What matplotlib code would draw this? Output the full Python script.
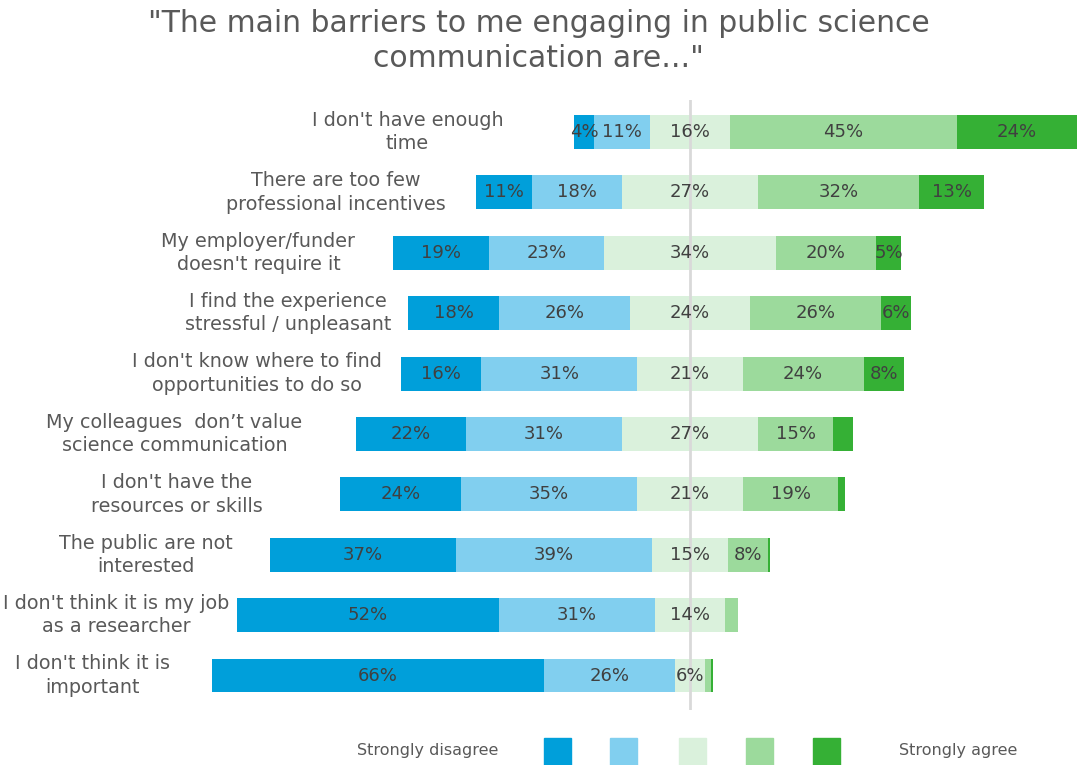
import numpy as np
import matplotlib
import matplotlib.pyplot as plt

matplotlib.use('Agg')

statements = [
    "I don't have enough\ntime",
    "There are too few\nprofessional incentives",
    "My employer/funder\ndoesn't require it",
    "I find the experience\nstressful / unpleasant",
    "I don't know where to find\nopportunities to do so",
    "My colleagues  don\u2019t value\nscience communication",
    "I don't have the\nresources or skills",
    "The public are not\ninterested",
    "I don't think it is my job\nas a researcher",
    "I don't think it is\nimportant",
]
strongly_disagree = [4, 11, 19, 18, 16, 22, 24, 37, 52, 66]
disagree          = [11, 18, 23, 26, 31, 31, 35, 39, 31, 26]
neutral           = [16, 27, 34, 24, 21, 27, 21, 15, 14, 6]
agree             = [45, 32, 20, 26, 24, 15, 19, 8, 2.6, 1.2]
strongly_agree    = [24, 13, 5, 6, 8, 3.9, 1.3, 0.5, 0, 0.4]

# distance from each bar's left end to the centre of its wrapped label (in % units)
label_gap = [33.2, 28.0, 26.8, 23.9, 28.6, 36.0, 32.6, 24.7, 24.0, 23.7]

colors = ['#009fda', '#81cfef', '#daf1dc', '#9cda9c', '#35b035']
grey = '#595959'
plt.rcParams['font.family'] = ['DejaVu Sans']

fig = plt.figure(figsize=(10.77, 7.65), dpi=100)
ax = fig.add_axes([0, 1 - 710/765, 1, 610/765])

series = np.array([strongly_disagree, disagree, neutral, agree, strongly_agree], dtype=float)
y = -np.arange(len(statements))
# neutral block sits centred on zero
left = -(series[0] + series[1] + series[2] / 2)

start = left.copy()
for k in range(5):
    ax.barh(y, series[k], left=start, height=0.56, color=colors[k], edgecolor='none', zorder=2)
    for yi, s, v in zip(y, start, series[k]):
        if v >= 4:
            ax.text(s + v / 2, yi, '%d%%' % round(v), ha='center', va='center',
                    fontsize=13, color='#404040', zorder=4)
    start = start + series[k]

for yi, l, g, txt in zip(y, left, label_gap, statements):
    ax.text(l - g, yi, txt, ha='center', va='center', multialignment='center',
            fontsize=13.8, color=grey, linespacing=1.3)

ax.axvline(0, color='#d9d9d9', lw=2, zorder=3)

ax.set_xlim(-690/5.03, 387/5.03)
ax.set_ylim(-9.57, 0.53)
ax.axis('off')

fig.text(0.5, 1 - 41/765, '"The main barriers to me engaging in public science\ncommunication are..."',
         ha='center', va='center', fontsize=21.5, color=grey, linespacing=1.3)

# legend row along the bottom edge
for k, xc in enumerate([557, 623, 692, 759, 826]):
    fig.patches.append(plt.Rectangle(((xc - 13.5) / 1077, 0), 27 / 1077, 27 / 765,
                                     transform=fig.transFigure, color=colors[k]))
fig.text(428 / 1077, 1 - 751 / 765, 'Strongly disagree', ha='center', va='center',
         fontsize=11.5, color=grey)
fig.text(958 / 1077, 1 - 751 / 765, 'Strongly agree', ha='center', va='center',
         fontsize=11.5, color=grey)

fig.savefig('out.png', dpi=100)
